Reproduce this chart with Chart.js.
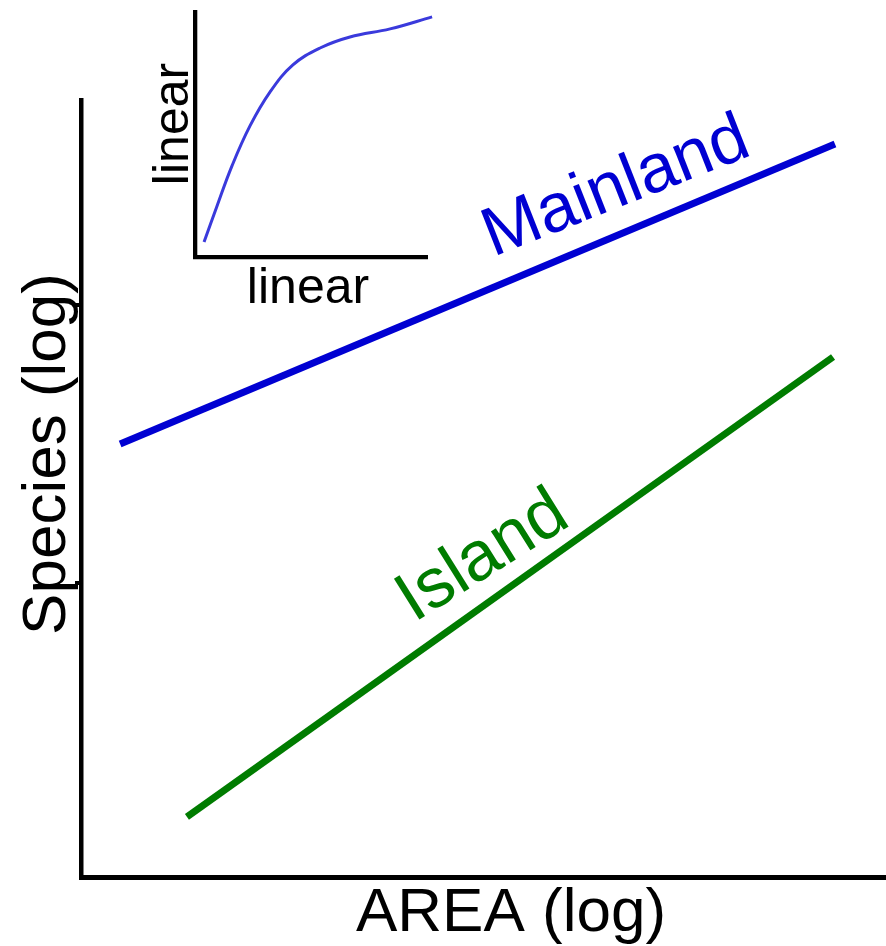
<!DOCTYPE html>
<html>
<head>
<meta charset="utf-8">
<script src="https://cdn.jsdelivr.net/npm/chart.js@4.4.1/dist/chart.umd.min.js"></script>
<style>
  html, body { margin: 0; padding: 0; background: #fff; }
  #wrap { position: relative; width: 886px; height: 946px; overflow: hidden; }
  #main { position: absolute; left: 0; top: 0; }
  #inset { position: absolute; left: 140px; top: 0; }
</style>
</head>
<body>
<div id="wrap">
  <canvas id="main" width="886" height="946"></canvas>
  <canvas id="inset" width="300" height="320"></canvas>
</div>
<script>
// Species–area relationship, log–log axes
const seriesNames = ['Mainland', 'Island'];
const mainlandArea = [1.75, 48200];
const mainlandSpecies = [316, 3795];
const islandArea = [4.55, 46900];
const islandSpecies = [14.4, 650];
const speciesTicks = [100, 1000];
const areaRange = [1, 100000];
const speciesRange = [8.757, 5462];
const axisTitles = ['AREA (log)', 'Species (log)'];

// Inset: the same relationship on untransformed axes
const insetArea = [0.39, 0.95, 1.59, 2.37, 3.23, 4.22, 5.39, 6.68, 8.41, 10.22];
const insetSpecies = [0.61, 2.08, 3.71, 5.35, 6.73, 7.84, 8.53, 8.98, 9.31, 9.80];
const insetRange = [0, 10];
const insetTitles = ['linear', 'linear'];

const FONT = "'Liberation Sans', Arial, sans-serif";
const BLUE = '#0000d2';
const GREEN = '#007c00';

function toPoints(xs, ys) {
  return xs.map((x, i) => ({ x: x, y: ys[i] }));
}

function drawText(ctx, text, x, y, angleDeg, size, color, align) {
  ctx.save();
  ctx.translate(x, y);
  ctx.rotate(angleDeg * Math.PI / 180);
  ctx.font = size + 'px ' + FONT;
  ctx.fillStyle = color;
  ctx.textAlign = align;
  ctx.textBaseline = 'alphabetic';
  ctx.fillText(text, 0, 0);
  ctx.restore();
}

const mainLabels = {
  id: 'mainLabels',
  afterDraw(chart) {
    const ctx = chart.ctx;
    drawText(ctx, axisTitles[0], 511, 931, 0, 62, '#000', 'center');
    drawText(ctx, axisTitles[1], 64.5, 454, -90, 62, '#000', 'center');
    drawText(ctx, seriesNames[0], 493, 257, -21.5, 69, BLUE, 'left');
    drawText(ctx, seriesNames[1], 414, 623, -32, 70, GREEN, 'left');
  }
};

const insetLabels = {
  id: 'insetLabels',
  afterDraw(chart) {
    const ctx = chart.ctx;
    drawText(ctx, insetTitles[0], 168, 302.5, 0, 50, '#000', 'center');
    drawText(ctx, insetTitles[1], 48, 124, -90, 50, '#000', 'center');
  }
};

new Chart(document.getElementById('main'), {
  type: 'scatter',
  data: {
    datasets: [
      {
        label: seriesNames[0],
        data: toPoints(mainlandArea, mainlandSpecies),
        showLine: true,
        borderColor: BLUE,
        borderWidth: 7,
        pointRadius: 0
      },
      {
        label: seriesNames[1],
        data: toPoints(islandArea, islandSpecies),
        showLine: true,
        borderColor: GREEN,
        borderWidth: 7,
        pointRadius: 0
      }
    ]
  },
  options: {
    responsive: false,
    devicePixelRatio: 1,
    animation: false,
    layout: { padding: { left: 75, top: 100, right: 0, bottom: 69 } },
    plugins: { legend: { display: false }, tooltip: { enabled: false } },
    scales: {
      x: {
        type: 'logarithmic',
        min: areaRange[0],
        max: areaRange[1],
        bounds: 'data',
        border: { display: true, color: '#000', width: 5 },
        grid: { display: false, drawTicks: false },
        ticks: { display: false }
      },
      y: {
        type: 'logarithmic',
        min: speciesRange[0],
        max: speciesRange[1],
        bounds: 'data',
        afterBuildTicks: (s) => { s.ticks = speciesTicks.map(v => ({ value: v })); },
        border: { display: true, color: '#000', width: 4.5 },
        grid: { display: true, drawOnChartArea: false, drawTicks: true, tickLength: 6, color: '#000', lineWidth: 4 },
        ticks: { display: false }
      }
    }
  },
  plugins: [mainLabels]
});

new Chart(document.getElementById('inset'), {
  type: 'scatter',
  data: {
    datasets: [{
      data: toPoints(insetArea, insetSpecies),
      showLine: true,
      borderColor: '#3a3adc',
      borderWidth: 3,
      pointRadius: 0,
      tension: 0.4,
      clip: false
    }]
  },
  options: {
    responsive: false,
    devicePixelRatio: 1,
    animation: false,
    layout: { padding: { left: 55, top: 12, right: 13, bottom: 63 } },
    plugins: { legend: { display: false }, tooltip: { enabled: false } },
    scales: {
      x: {
        type: 'linear',
        min: insetRange[0],
        max: insetRange[1],
        border: { display: true, color: '#000', width: 4.3 },
        grid: { display: false, drawTicks: false },
        ticks: { display: false }
      },
      y: {
        type: 'linear',
        min: insetRange[0],
        max: insetRange[1],
        border: { display: true, color: '#000', width: 4.3 },
        grid: { display: false, drawTicks: false },
        ticks: { display: false }
      }
    }
  },
  plugins: [insetLabels]
});
</script>
</body>
</html>
